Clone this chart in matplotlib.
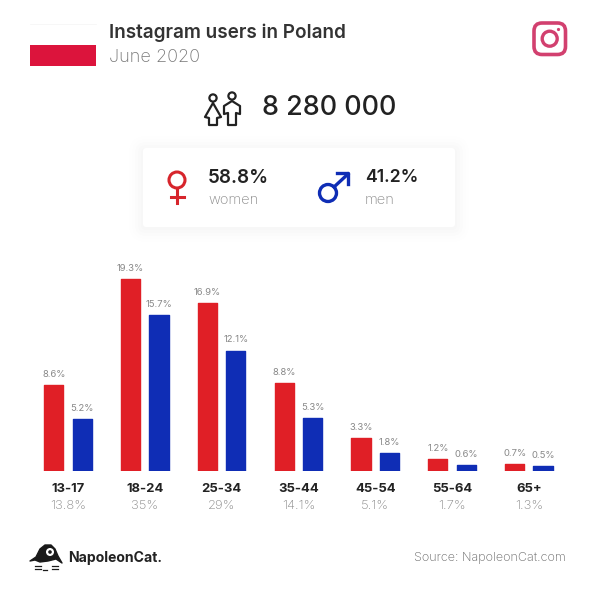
import matplotlib
matplotlib.use('Agg')
import matplotlib.pyplot as plt
from matplotlib.patches import Rectangle, FancyBboxPatch, Circle, Polygon

plt.rcParams['font.family'] = ['Inter', 'DejaVu Sans']

ages = ['13-17', '18-24', '25-34', '35-44', '45-54', '55-64', '65+']
women = [8.6, 19.3, 16.9, 8.8, 3.3, 1.2, 0.7]
men = [5.2, 15.7, 12.1, 5.3, 1.8, 0.6, 0.5]
totals = ['13.8%', '35%', '29%', '14.1%', '5.1%', '1.7%', '1.3%']

RED = '#e01f26'
BLUE = '#0f2db5'
PINK = '#d2406f'
W, H = 613, 594

fig = plt.figure(figsize=(W / 100, H / 100), dpi=100, facecolor='white')

# background layer in pixel coords, y going down
bg = fig.add_axes([0, 0, 1, 1])
bg.set_xlim(0, W)
bg.set_ylim(H, 0)
bg.axis('off')

# flag
bg.add_patch(Rectangle((30, 45), 66, 21, fc='#dc143c', ec='none'))
bg.plot([30, 96], [24, 24], color='#f6f6f6', lw=0.6)

bg.text(109, 33, 'Instagram users in Poland', fontsize=13.6, fontweight='semibold', color='#333333', va='center')
bg.text(109, 57, 'June 2020', fontsize=13, fontweight='light', color='#777777', va='center')

# instagram icon
bg.add_patch(FancyBboxPatch((534, 23), 31.5, 31.5, boxstyle='round,pad=0,rounding_size=8', fc='none', ec=PINK, lw=2.6))
bg.add_patch(Circle((549.7, 38.7), 7.5, fc='none', ec=PINK, lw=2.4))
bg.add_patch(Circle((558.5, 29.5), 1.6, fc=PINK, ec='none'))

# people icon
bg.add_patch(Circle((213, 98), 3.6, fc='none', ec='#222222', lw=1.6))
bg.add_patch(Circle((232, 96), 3.6, fc='none', ec='#222222', lw=1.6))
bg.add_patch(Polygon([(213, 103), (221, 117), (217, 118), (217, 125), (209, 125), (209, 118), (205, 117)],
                     closed=True, fc='none', ec='#222222', lw=1.6, joinstyle='round'))
bg.add_patch(Polygon([(232, 101), (240, 106), (240, 114), (236, 113), (236, 125), (228, 125), (228, 113), (224, 114), (224, 106)],
                     closed=True, fc='none', ec='#222222', lw=1.6, joinstyle='round'))

bg.text(262, 108, '8 280 000', fontsize=19.4, fontweight='medium', color='#222222', va='center')

# card with soft shadow
for pad, alpha in [(14, 0.004), (11, 0.005), (8, 0.006), (5, 0.007), (2, 0.008)]:
    bg.add_patch(FancyBboxPatch((143 - pad, 150 - pad), 312 + 2 * pad, 78 + 2 * pad,
                                boxstyle='round,pad=0,rounding_size=%d' % (pad + 3), fc='black', ec='none', alpha=alpha))
bg.add_patch(FancyBboxPatch((143, 148), 312, 79, boxstyle='round,pad=0,rounding_size=3', fc='white', ec='none'))

# female sign
bg.add_patch(Circle((177, 180), 8, fc='none', ec='#d7252c', lw=2.2))
bg.plot([177, 177], [188, 203], color='#d7252c', lw=2.2)
bg.plot([171, 184], [197, 197], color='#d7252c', lw=2.2)

# male sign
bg.add_patch(Circle((328, 193), 8.5, fc='none', ec=BLUE, lw=2.4))
bg.plot([334, 348], [187, 174], color=BLUE, lw=2.4)
bg.plot([337, 348, 348], [173, 173, 184], color=BLUE, lw=2.4)

bg.text(208, 178, '58.8%', fontsize=13.6, fontweight='semibold', color='#222222', va='center')
bg.text(208, 200, 'women', fontsize=10.5, fontweight='light', color='#888888', va='center')
bg.text(365, 178, '41.2%', fontsize=12.7, fontweight='semibold', color='#222222', va='center')
bg.text(365, 200, 'men', fontsize=10.5, fontweight='light', color='#888888', va='center')

# logo
bg.add_patch(Polygon([(30, 561), (36, 557), (40, 549), (45, 545), (51, 545), (55, 549), (58, 556), (62, 563), (56, 559), (48, 561), (40, 562), (35, 560)],
                     closed=True, fc='#1a1a1a', ec='#1a1a1a', lw=1, joinstyle='round'))
bg.add_patch(Circle((50, 552), 4, fc='white', ec='none'))
bg.add_patch(Circle((50, 552), 1.8, fc='#1a1a1a', ec='none'))
for y in [566, 569]:
    bg.plot([35, 41], [y, y], color='#1a1a1a', lw=0.9)
    bg.plot([52, 58], [y, y], color='#1a1a1a', lw=0.9)
bg.plot([43, 47], [570, 570], color='#1a1a1a', lw=0.9)
bg.text(68, 558, 'NapoleonCat.', fontsize=10.1, fontweight='bold', color='#222222', va='center')
bg.text(566, 558, 'Source: NapoleonCat.com', fontsize=9, fontweight='light', color='#666666', va='center', ha='right')

# bars
ax = fig.add_axes([29.6 / W, (H - 471) / H, 537.6 / W, 199 / H])
ax.patch.set_alpha(0)
x = list(range(len(ages)))
w = 0.25
off = 0.185
ax.bar([i - off for i in x], women, w, color=RED, edgecolor=RED, lw=1, joinstyle='round')
ax.bar([i + off for i in x], men, w, color=BLUE, edgecolor=BLUE, lw=1, joinstyle='round')
ax.set_xlim(-0.5, 6.5)
ax.set_ylim(0, 20)
ax.axis('off')

for i in x:
    for pos, val in [(i - off, women[i]), (i + off, men[i])]:
        ax.annotate('%.1f%%' % val, (pos, val), xytext=(0, 4.5), textcoords='offset points',
                    ha='center', va='bottom', fontsize=6.8, color='#888888', annotation_clip=False)
    ax.annotate(ages[i], (i, 0), xytext=(0, -12.8), textcoords='offset points', ha='center', va='center',
                fontsize=9.4, fontweight='bold', color='#222222', annotation_clip=False)
    ax.annotate(totals[i], (i, 0), xytext=(0, -25.5), textcoords='offset points', ha='center', va='center',
                fontsize=9.4, fontweight='light', color='#888888', annotation_clip=False)

fig.savefig('out.png', dpi=100, facecolor='white')
